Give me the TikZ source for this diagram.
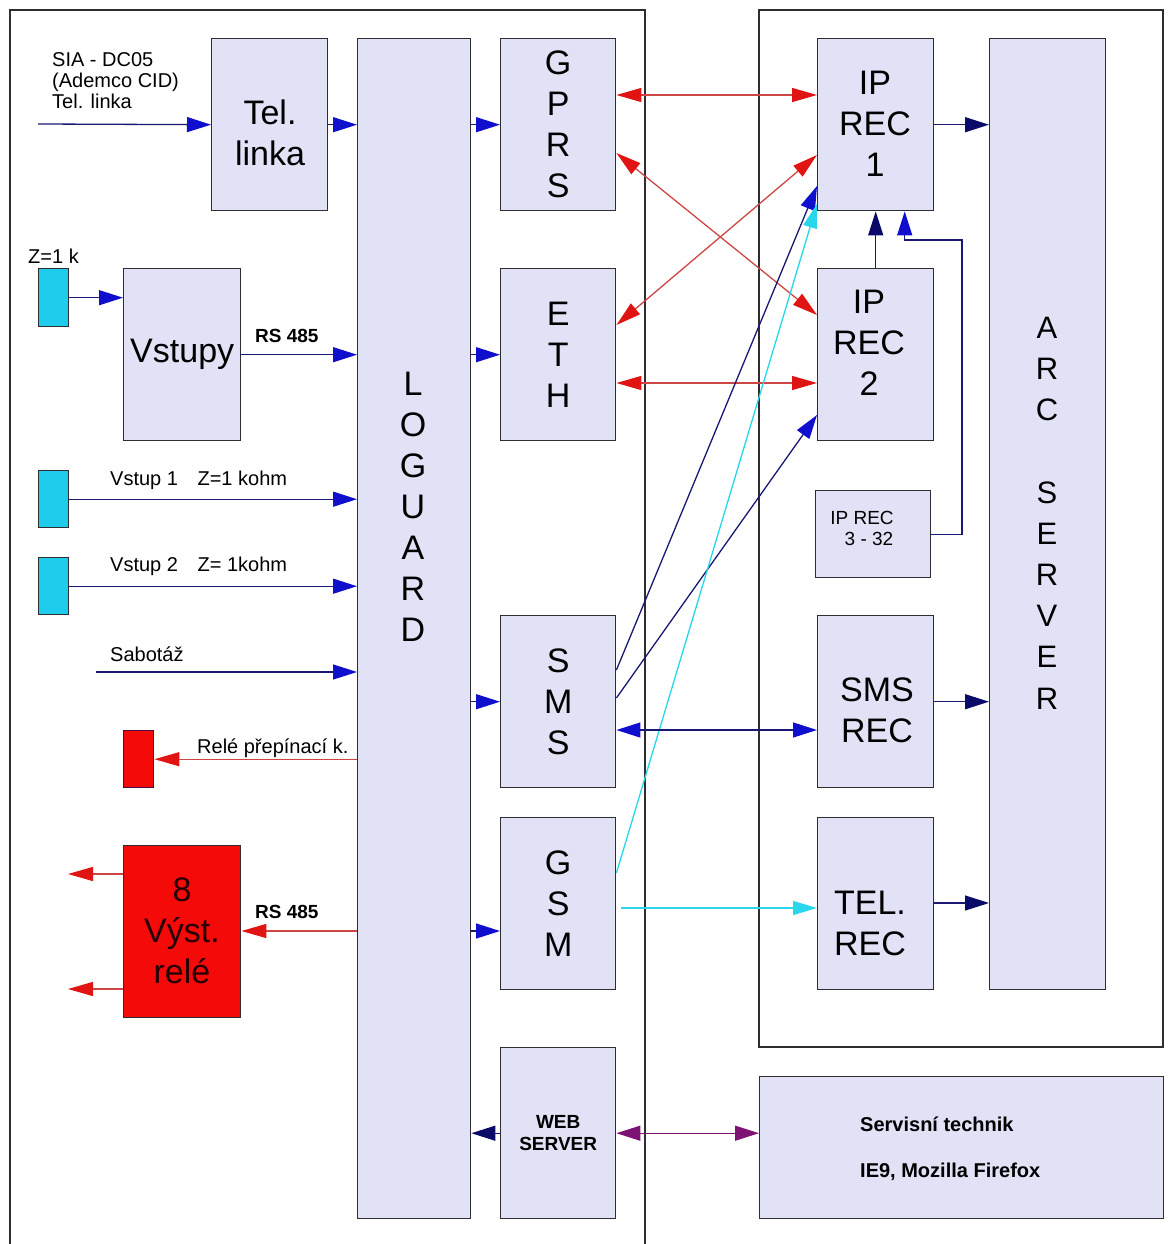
\documentclass[tikz,border=0pt]{standalone}
\usepackage{fontspec}
\setmainfont{Liberation Sans}
\usetikzlibrary{arrows.meta}
\definecolor{boxfill}{RGB}{226,226,247}
\definecolor{boxline}{RGB}{45,45,50}
\definecolor{linenavy}{RGB}{25,25,115}
\definecolor{tipblue}{RGB}{15,15,205}
\definecolor{tipnavy}{RGB}{10,10,105}
\definecolor{linered}{RGB}{205,70,70}
\definecolor{tipred}{RGB}{225,20,20}
\definecolor{cyanl}{RGB}{40,215,235}
\definecolor{purp}{RGB}{125,20,115}
\definecolor{cyanbox}{RGB}{30,205,235}
\definecolor{redbox}{RGB}{245,10,10}
\tikzset{
  tipB/.tip={Triangle[length=24pt,width=15pt,color=tipblue]},
  tipN/.tip={Triangle[length=24pt,width=15pt,color=tipnavy]},
  tipR/.tip={Triangle[length=25pt,width=14pt,color=tipred]},
  tipC/.tip={Triangle[length=24pt,width=14pt,color=cyanl]},
  tipP/.tip={Triangle[length=24pt,width=15pt,color=purp]},
}
\begin{document}
\begin{tikzpicture}[x=1pt,y=-1pt,
  box/.style={draw=boxline,line width=1.4pt,fill=boxfill,inner sep=0pt,anchor=north west,align=center},
  frame/.style={draw=boxline,line width=1.4pt},
  big/.style={font=\fontsize{34}{41}\selectfont},
  arcf/.style={font=\fontsize{31}{41.2}\selectfont},
  small/.style={font=\fontsize{20}{21}\selectfont,inner sep=0pt},
  boldl/.style={font=\bfseries\fontsize{19}{20}\selectfont,inner sep=0pt},
  bl/.style={draw=linenavy,line width=1.3pt,-tipB},
  nv/.style={draw=linenavy,line width=1.3pt,-tipN},
  rd/.style={draw=linered,line width=1.3pt,-tipR},
  rdd/.style={draw=linered,line width=1.3pt,tipR-tipR},
  bld/.style={draw=linenavy,line width=1.3pt,tipB-tipB},
  cy/.style={draw=cyanl,line width=1.3pt,-tipC},
  pd/.style={draw=purp,line width=1.3pt,tipP-tipP},
]
\useasboundingbox (0,0) rectangle (1170,1244);
\fill[white] (0,0) rectangle (1170,1244);
% frames
\draw[frame] (10,1244) -- (10,10) -- (645,10) -- (645,1244);
\draw[frame] (759,10) rectangle (1163,1047);

% boxes
\node[box,minimum width=116pt,minimum height=172pt] (tel) at (211,38) {};
\node[big,align=center] (telt) at (270,133) {Tel.\\linka};
\node[box,minimum width=113pt,minimum height=1180pt] (log) at (357,38) {};
\node[big,align=center] (logt) at (413,507) {L\\O\\G\\U\\A\\R\\D};
\node[box,big,minimum width=115pt,minimum height=172pt] (gprs) at (500,38) {G\\P\\R\\S};
\node[box,big,minimum width=115pt,minimum height=172pt] (eth) at (500,268) {E\\T\\H};
\node[box,big,minimum width=115pt,minimum height=172pt] (sms) at (500,615) {S\\M\\S};
\node[box,big,minimum width=115pt,minimum height=172pt] (gsm) at (500,817) {G\\S\\M};
\node[box,minimum width=115pt,minimum height=171pt,font=\bfseries\fontsize{19}{22}\selectfont] (web) at (500,1047) {WEB\\SERVER};
\node[box,minimum width=116pt,minimum height=172pt] (ip1) at (817,38) {};
\node[big,align=center] (ip1t) at (875,124) {IP\\REC\\1};
\node[box,minimum width=116pt,minimum height=172pt] (ip2) at (817,268) {};
\node[big,align=center] (ip2t) at (869,343) {IP\\REC\\2};
\node[box,minimum width=115pt,minimum height=87pt] (ip3) at (815,490) {};
\node[align=center,font=\fontsize{19}{21}\selectfont,inner sep=0pt] (ip3t) at (862,528) {IP REC\\\hspace*{14pt}3 - 32};
\node[box,minimum width=116pt,minimum height=172pt] (smsr) at (817,615) {};
\node[big,align=center] (smsrt) at (877,710) {SMS\\REC};
\node[box,minimum width=116pt,minimum height=172pt] (telr) at (817,817) {};
\node[big,align=center] (telrt) at (870,923) {TEL.\\REC};
\node[box,minimum width=116pt,minimum height=951pt] (arc) at (989,38) {};
\node[arcf,align=center] (arct) at (1047,513) {A\\R\\C\\[41.2pt]S\\E\\R\\V\\E\\R};
\node[box,minimum width=404pt,minimum height=142pt] (serv) at (759,1076) {};
\node[font=\bfseries\fontsize{20}{22}\selectfont,anchor=west,inner sep=0pt] (servt1) at (860,1124) {Servisní technik};
\node[font=\bfseries\fontsize{20}{22}\selectfont,anchor=west,inner sep=0pt] (servt2) at (860,1172) {IE9, Mozilla Firefox};
\node[box,big,minimum width=117pt,minimum height=172pt] (vst) at (123,268) {Vstupy};
\node[box,fill=cyanbox,minimum width=30pt,minimum height=58pt] (c1) at (38,268) {};
\node[box,fill=cyanbox,minimum width=30pt,minimum height=57pt] (c2) at (38,470) {};
\node[box,fill=cyanbox,minimum width=30pt,minimum height=57pt] (c3) at (38,557) {};
\node[box,fill=redbox,draw=purp!60!black,minimum width=30pt,minimum height=57pt] (rr) at (123,730) {};
\node[box,fill=redbox,minimum width=117pt,minimum height=172pt] (rel) at (123,845) {};
\node[big,align=center,text=black!85!red] (relt) at (182,931) {8\\Výst.\\relé};

% labels
\node[small,anchor=west,align=left] (sia) at (52,81) {SIA - DC05\\(Ademco CID)\\Tel. linka};
\node[small,anchor=west] (zk) at (28,256) {Z=1 k};
\node[boldl,anchor=west] (rs1) at (255,336) {RS 485};
\node[small,anchor=west] (v1) at (110,480) {Vstup 1\hspace{14pt} Z=1 kohm};
\node[small,anchor=west] (v2) at (110,566) {Vstup 2\hspace{14pt} Z= 1kohm};
\node[small,anchor=west] (sab) at (110,654) {Sabotáž};
\node[small,anchor=west] (rlk) at (197,748) {Relé přepínací k.};
\node[boldl,anchor=west] (rs2) at (255,912) {RS 485};

% left side connectors
\coordinate (in0) at (38,124);
\draw[bl] (in0) -- (tel.west);
\draw[bl] (tel.east) -- (tel.east -| log.west);
\draw[bl] (gprs.west -| log.east) -- (gprs.west);
\draw[bl] (c1.east) -- (c1.east -| vst.west);
\draw[bl] (vst.east) -- (vst.east -| log.west);
\draw[bl] (eth.west -| log.east) -- (eth.west);
\draw[bl] (c2.east) -- (c2.east -| log.west);
\draw[bl] (c3.east) -- (c3.east -| log.west);
\coordinate (sab0) at (96,672);
\draw[bl] (sab0) -- (sab0 -| log.west);
\draw[rd] (rr.east -| log.west) -- (rr.east);
\draw[bl] (sms.west -| log.east) -- (sms.west);
\coordinate (rs2y) at (0,931);
\draw[rd] (log.west |- rs2y) -- (rel.east |- rs2y);
\coordinate (o1) at (68,874);
\coordinate (o2) at (68,989);
\draw[rd] (rel.west |- o1) -- (o1);
\draw[rd] (rel.west |- o2) -- (o2);
\draw[bl] (log.east |- rs2y) -- (gsm.west |- rs2y);
\draw[nv] (web.west) -- (web.west -| log.east);
\draw[pd] (web.east) -- (web.east -| serv.west);

% middle connectors
\draw[rdd] (gprs.east |- 0,95) -- (ip1.west |- 0,95);
\draw[rdd] (gprs.east |- 0,153) -- (ip2.west |- 0,315);
\draw[rdd] (eth.east |- 0,325) -- (ip1.west |- 0,155);
\draw[rdd] (eth.east |- 0,383) -- (ip2.west |- 0,383);
\draw[bl] (sms.east |- 0,670) -- (ip1.west |- 0,186);
\draw[bl] (sms.east |- 0,698) -- (ip2.west |- 0,415);
\draw[cy] (gsm.east |- 0,873) -- (ip1.west |- 0,204);
\draw[bld] (sms.east |- 0,730) -- (smsr.west |- 0,730);
\draw[cy] ([xshift=5pt]gsm.east |- 0,908) -- (telr.west |- 0,908);

% right side connectors
\draw[nv] (ip1.east) -- (ip1.east -| arc.west);
\draw[nv] (ip2.north) -- (ip1.south);
\coordinate (k) at (962,240);
\draw[bl] (ip3.east) -| (k) -| ([xshift=29pt]ip1.south);
\draw[nv] (smsr.east) -- (smsr.east -| arc.west);
\draw[nv] (telr.east |- 0,903) -- (arc.west |- 0,903);
\end{tikzpicture}
\end{document}
